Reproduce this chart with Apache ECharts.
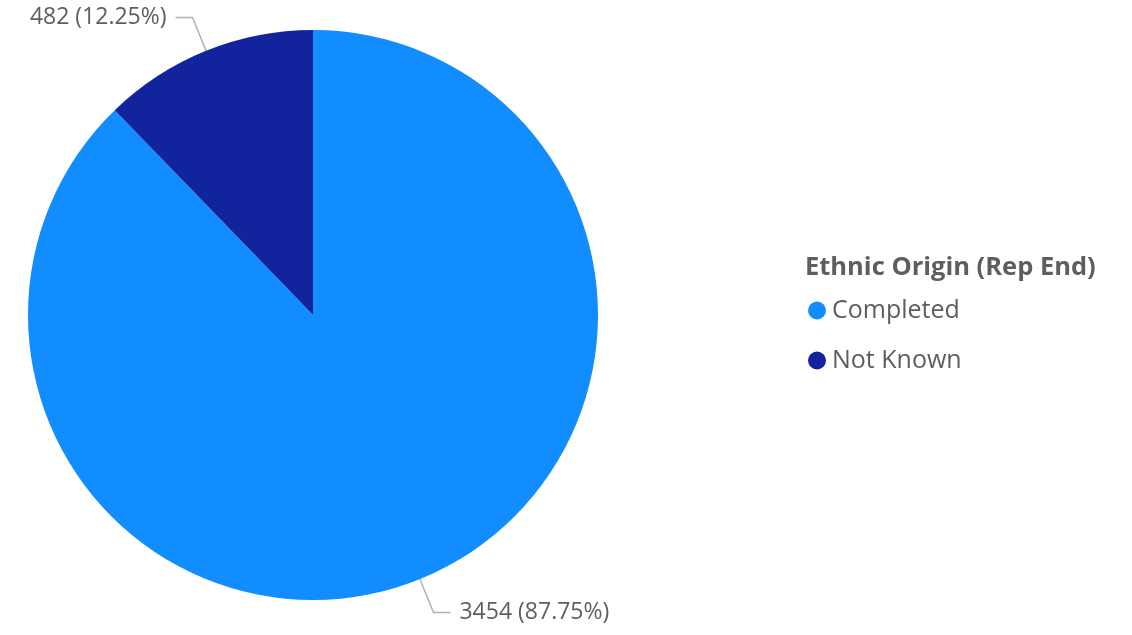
<!DOCTYPE html>
<html><head><meta charset="utf-8">
<script src="https://cdn.jsdelivr.net/npm/echarts@6/dist/echarts.min.js"></script>
<style>html,body{margin:0;padding:0;background:#fff}#c{width:1132px;height:635px}</style>
</head><body><div id="c"></div>
<script>
const categories = ["Completed", "Not Known"];
const values = [3454, 482];
const colors = ["#118DFF", "#12239E"];
const legendTitle = "Ethnic Origin (Rep End)";

const total = values.reduce((a, b) => a + b, 0);
const chart = echarts.init(document.getElementById('c'));
chart.setOption({
  animation: false,
  backgroundColor: '#ffffff',
  title: {
    text: legendTitle,
    left: 800, top: 250,
    textStyle: { fontFamily: 'Open Sans', fontWeight: 'bold', fontSize: 25.5, color: '#605E5C' }
  },
  legend: {
    orient: 'vertical',
    left: 808, top: 298,
    padding: 0,
    icon: 'circle',
    itemWidth: 18, itemHeight: 18,
    itemGap: 25,
    textStyle: { fontFamily: 'Open Sans', fontSize: 25, color: '#605E5C', padding: [0, 0, 0, 1] },
    data: categories
  },
  series: [{
    type: 'pie',
    center: [313, 315],
    radius: [0, 285],
    startAngle: 90,
    clockwise: true,
    color: colors,
    data: categories.map((c, i) => ({ name: c, value: values[i] })),
    label: {
      show: true,
      fontFamily: 'Open Sans',
      fontSize: 23,
      color: '#605E5C',
      formatter: p => p.value + ' (' + (p.value / total * 100).toFixed(2) + '%)',
      distanceToLabelLine: 9
    },
    labelLine: {
      show: true,
      length: 36,
      length2: 17,
      lineStyle: { color: '#B3B0AD', width: 1.5 }
    },
    emphasis: { disabled: true }
  }]
});
</script></body></html>
